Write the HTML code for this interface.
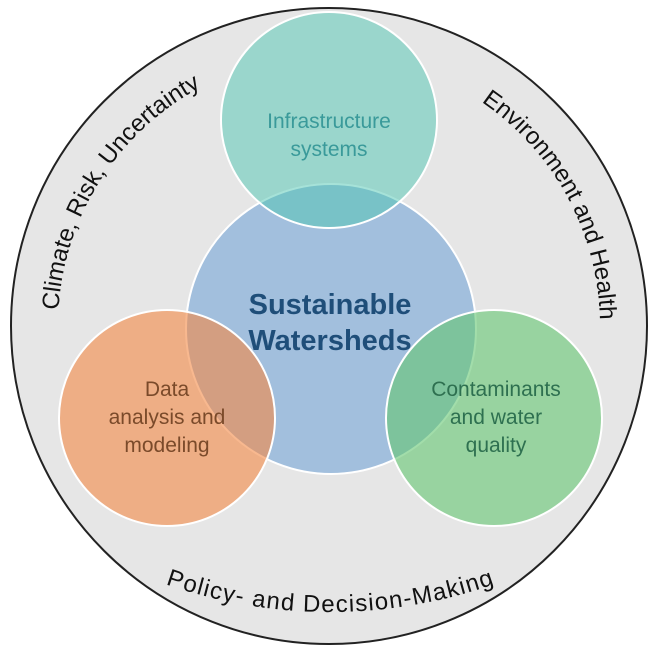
<!DOCTYPE html>
<html><head><style>
html,body{margin:0;padding:0;background:#fff;}
svg{display:block;}
text{font-family:"Liberation Sans",sans-serif;}
</style></head><body>
<svg width="659" height="652" viewBox="0 0 659 652" xmlns="http://www.w3.org/2000/svg">
<defs>
<path id="cw" d="M 58 326 A 271 271 0 1 1 600 326 A 271 271 0 1 1 58 326"/>
<path id="ccw" d="M 30 512 A 500 500 0 0 0 630 512"/>
</defs>
<circle cx="329" cy="326" r="318" fill="#e6e6e6" stroke="#222" stroke-width="2"/>
<circle cx="331" cy="329" r="145" fill="#a2bfdd" stroke="#fff" stroke-width="2"/>
<circle cx="329" cy="120" r="108" fill="rgb(78,198,178)" fill-opacity="0.5" stroke="#fff" stroke-width="2"/>
<circle cx="167" cy="418" r="108" fill="rgb(243,137,68)" fill-opacity="0.6" stroke="#fff" stroke-width="2"/>
<circle cx="494" cy="418" r="108" fill="rgb(100,198,113)" fill-opacity="0.6" stroke="#fff" stroke-width="2"/>
<text font-size="24" fill="#111"><textPath href="#cw" startOffset="154" text-anchor="middle">Climate, Risk, Uncertainty</textPath></text>
<text font-size="24" fill="#111"><textPath href="#cw" startOffset="716" text-anchor="middle">Environment and Health</textPath></text>
<text font-size="24" fill="#111"><textPath href="#ccw" startOffset="50%" text-anchor="middle" textLength="335" lengthAdjust="spacing">Policy- and Decision-Making</textPath></text>
<g font-size="21" text-anchor="middle">
<text x="329" y="128" fill="#3a9a9a">Infrastructure</text>
<text x="329" y="156" fill="#3a9a9a">systems</text>
<text x="167" y="396" fill="#7a4a2a">Data</text>
<text x="167" y="424" fill="#7a4a2a">analysis and</text>
<text x="167" y="452" fill="#7a4a2a">modeling</text>
<text x="496" y="396" fill="#2e7050">Contaminants</text>
<text x="496" y="424" fill="#2e7050">and water</text>
<text x="496" y="452" fill="#2e7050">quality</text>
</g>
<g font-size="29" font-weight="bold" fill="#1f4e79" text-anchor="middle">
<text x="330" y="314">Sustainable</text>
<text x="330" y="350">Watersheds</text>
</g>
</svg>
</body></html>
